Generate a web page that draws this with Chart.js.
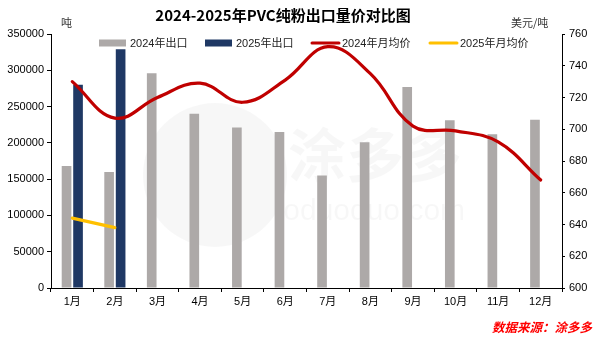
<!DOCTYPE html>
<html>
<head>
<meta charset="utf-8">
<script src="https://cdn.jsdelivr.net/npm/chart.js@4.4.1/dist/chart.umd.min.js"></script>
<style>
html,body{margin:0;padding:0;background:#fff;}
#wrap{width:600px;height:343px;position:relative;}
</style>
</head>
<body>
<div id="wrap"><canvas id="c" width="600" height="343"></canvas></div>
<script>
const categories = ['1月','2月','3月','4月','5月','6月','7月','8月','9月','10月','11月','12月'];
const export2024 = [168000,160000,296000,240000,221000,215000,155000,201000,277000,231000,212000,232000];
const export2025 = [280000,329000];
const price2024 = [730,707,720,729,717,731,752,735,702,699,692,668];
const price2025 = [644,638];
const leftTicks = [0,50000,100000,150000,200000,250000,300000,350000];
const rightTicks = [600,620,640,660,680,700,720,740,760];

const titleText = '2024-2025年PVC纯粉出口量价对比图';
const leftUnit = '吨';
const rightUnit = '美元/吨';
const sourceText = '数据来源：涂多多';

const FONT = '"Liberation Sans", Arial, "Noto Sans CJK SC", sans-serif';
const CJK = '"Liberation Sans", "Noto Sans CJK SC", sans-serif';

const textPlugin = {
  id: 'texts',
  beforeDatasetsDraw(chart) {
    const ctx = chart.ctx;
    ctx.save();
    ctx.fillStyle = 'rgba(0,0,0,0.03)';
    ctx.textAlign = 'center';
    ctx.textBaseline = 'middle';
    ctx.font = 'bold 58px "Noto Sans CJK SC", sans-serif';
    ctx.fillText('涂多多', 375, 155);
    ctx.font = '30px "Liberation Sans", sans-serif';
    ctx.fillText('toduoduo.com', 370, 212);
    ctx.beginPath();
    ctx.arc(215, 175, 72, 0, Math.PI * 2);
    ctx.fill();
    ctx.restore();
  },
  afterDraw(chart) {
    const ctx = chart.ctx;
    ctx.save();
    ctx.fillStyle = '#000';
    ctx.textAlign = 'center';
    ctx.textBaseline = 'middle';
    ctx.font = 'bold 15px "Noto Sans CJK SC", sans-serif';
    ctx.fillText(titleText, 283, 15);
    ctx.font = '11px "Noto Sans CJK SC", sans-serif';
    ctx.fillStyle = '#333';
    ctx.textAlign = 'left';
    ctx.fillText(leftUnit, 61, 23);
    ctx.fillText(rightUnit, 511, 23);
    const ds = chart.data.datasets;
    const items = [
      {x: 99, ds: ds[0], kind: 'box'},
      {x: 205, ds: ds[1], kind: 'box'},
      {x: 311, ds: ds[2], kind: 'line'},
      {x: 429, ds: ds[3], kind: 'line'}
    ];
    const ly = 43;
    items.forEach(it => {
      if (it.kind === 'box') {
        ctx.fillStyle = it.ds.backgroundColor;
        ctx.fillRect(it.x, ly - 3.5, 27, 7);
      } else {
        ctx.strokeStyle = it.ds.borderColor;
        ctx.lineWidth = 3;
        ctx.lineCap = 'round';
        ctx.beginPath();
        ctx.moveTo(it.x + 1, ly);
        ctx.lineTo(it.x + 28, ly);
        ctx.stroke();
      }
      ctx.fillStyle = '#222';
      ctx.font = '11px ' + CJK;
      ctx.textAlign = 'left';
      ctx.fillText(it.ds.label, it.x + 31, ly + 1);
    });
    ctx.fillStyle = '#ff0000';
    ctx.font = 'italic bold 12.5px "Noto Sans CJK SC", sans-serif';
    ctx.textAlign = 'right';
    ctx.fillText(sourceText, 592, 327);
    ctx.restore();
  }
};

new Chart(document.getElementById('c'), {
  data: {
    labels: categories,
    datasets: [
      {type: 'bar', label: '2024年出口', data: export2024, backgroundColor: '#ADA9A8', yAxisID: 'y', order: 2,
       categoryPercentage: 0.54, barPercentage: 0.84},
      {type: 'bar', label: '2025年出口', data: export2025, backgroundColor: '#1F3864', yAxisID: 'y', order: 2,
       categoryPercentage: 0.54, barPercentage: 0.84},
      {type: 'line', label: '2024年月均价', data: price2024, borderColor: '#C00000', backgroundColor: '#C00000',
       borderWidth: 3.2, pointRadius: 0, tension: 0.4, yAxisID: 'y1', order: 1, borderCapStyle: 'round'},
      {type: 'line', label: '2025年月均价', data: price2025, borderColor: '#FFC000', backgroundColor: '#FFC000',
       borderWidth: 3.2, pointRadius: 0, tension: 0.4, yAxisID: 'y1', order: 0, borderCapStyle: 'round'}
    ]
  },
  options: {
    responsive: false,
    animation: false,
    devicePixelRatio: 1,
    layout: {padding: {top: 34, bottom: 35, left: 0, right: 0}},
    plugins: {legend: {display: false}, title: {display: false}, tooltip: {enabled: false}},
    scales: {
      x: {
        offset: true,
        grid: {display: true, drawOnChartArea: false, color: '#000', tickLength: 4, offset: true},
        border: {display: true, color: '#000', width: 1},
        ticks: {color: '#000', font: {size: 11, family: CJK}, padding: 3, maxRotation: 0},
        afterFit(s) { s.height = 20; }
      },
      y: {
        position: 'left', min: 0, max: 350000,
        afterBuildTicks(s) { s.ticks = leftTicks.map(v => ({value: v})); },
        ticks: {color: '#000', font: {size: 11, family: FONT}, padding: 3, callback: v => String(v)},
        grid: {display: true, drawOnChartArea: false, color: '#000', tickLength: 4},
        border: {display: true, color: '#000', width: 1},
        afterFit(s) { s.width = 51; }
      },
      y1: {
        position: 'right', min: 600, max: 760,
        afterBuildTicks(s) { s.ticks = rightTicks.map(v => ({value: v})); },
        ticks: {color: '#000', font: {size: 11, family: FONT}, padding: 4, callback: v => String(v)},
        grid: {display: true, drawOnChartArea: false, color: '#000', tickLength: 3},
        border: {display: true, color: '#000', width: 1},
        afterFit(s) { s.width = 38; }
      }
    }
  },
  plugins: [textPlugin]
});
</script>
</body>
</html>
